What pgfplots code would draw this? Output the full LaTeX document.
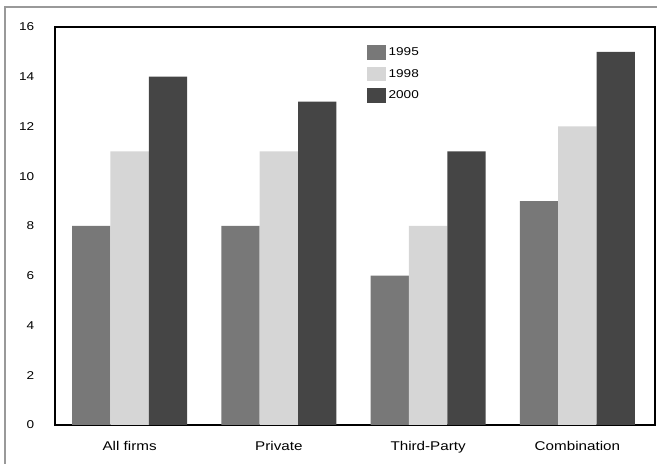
\documentclass[border=0pt]{standalone}
\usepackage{fontspec}
\setmainfont{Liberation Sans}[FakeStretch=1.2]
\usepackage{pgfplots}
\pgfplotsset{compat=1.18}

\definecolor{c95}{gray}{0.47}
\definecolor{c98}{gray}{0.84}
\definecolor{c00}{gray}{0.27}

\pgfplotsset{
  mybar/.style={fill=#1, draw=none,
    legend image code/.code={\path[fill=#1] (0pt,-5.5pt) rectangle (14pt,5.5pt);}},
}

\begin{document}
\begin{tikzpicture}
\useasboundingbox (-41.25pt,-29.25pt) rectangle (451.5pt,318.75pt);
\draw[gray!80, line width=0.8pt] (-37.5pt,313.5pt) rectangle (470pt,-45pt);
\begin{axis}[
  at={(0pt,0pt)}, anchor=south west,
  scale only axis, width=450pt, height=298.5pt,
  ybar=0pt, bar width=0.257,
  xmin=-0.5, xmax=3.52, ymin=0, ymax=16,
  xtick={0,1,2,3},
  xticklabels={All firms, Private, Third-Party, Combination},
  ytick={0,2,...,16},
  major tick length=0pt,
  axis line style={line width=1pt},
  /pgf/number format/assume math mode=true,
  yticklabel style={font=\fontsize{8.5}{10}\selectfont, xshift=-12pt},
  xticklabel style={font=\fontsize{9.5}{11}\selectfont, yshift=-9pt},
  legend style={at={(0.52,0.955)}, anchor=north west, draw=none, fill=none,
    font=\fontsize{8.5}{10}\selectfont, row sep=4.5pt, inner sep=0pt},
]
\addplot[mybar=c95] coordinates {(0,8) (1,8) (2,6) (3,9)};
\addplot[mybar=c98] coordinates {(0,11) (1,11) (2,8) (3,12)};
\addplot[mybar=c00] coordinates {(0,14) (1,13) (2,11) (3,15)};
\legend{1995, 1998, 2000}
\end{axis}
\end{tikzpicture}
\end{document}
